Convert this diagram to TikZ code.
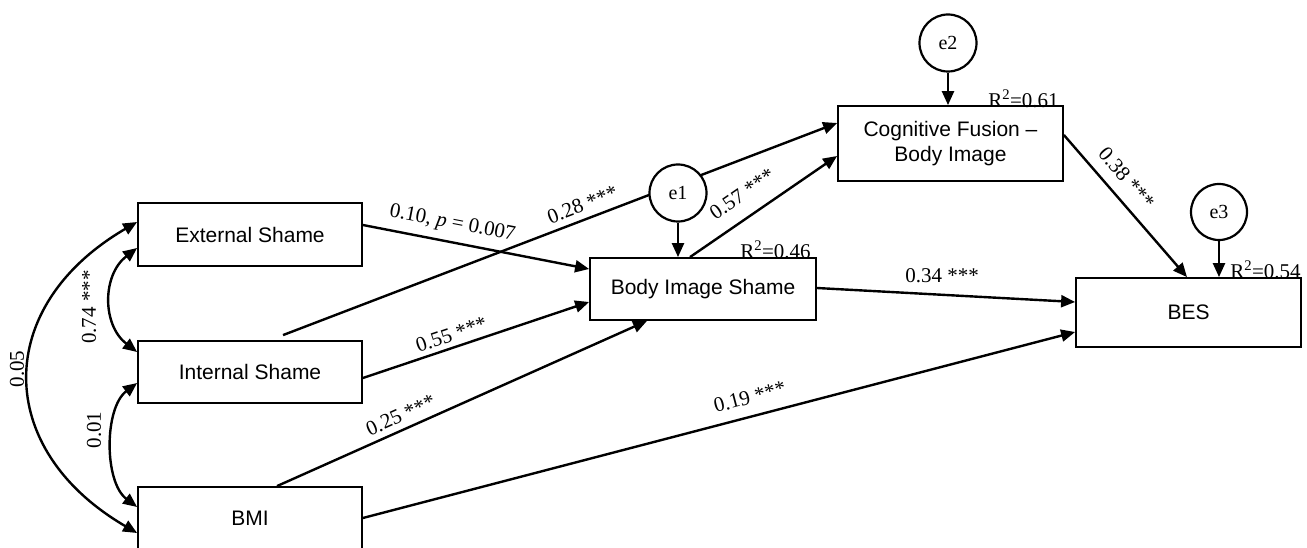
\documentclass[tikz,border=0pt]{standalone}
\usepackage{fontspec}
\setmainfont{Liberation Serif}
\newfontfamily\boxfont{Liberation Sans}
\usetikzlibrary{arrows.meta,calc}
\begin{document}
\begin{tikzpicture}[x=1pt,y=-1pt,
  box/.style={draw, line width=1.8pt, font=\boxfont\fontsize{21}{25}\selectfont, align=center, inner sep=0pt},
  err/.style={draw, circle, line width=2.2pt, fill=white, minimum size=57pt, inner sep=0pt, font=\fontsize{20}{24}\selectfont},
  arr/.style={line width=2.4pt, -{Triangle[length=14pt,width=12pt]}},
  cov/.style={line width=2.4pt, {Triangle[length=14pt,width=12pt]}-{Triangle[length=14pt,width=12pt]}},
  lbl/.style={font=\fontsize{21}{24}\selectfont, inner sep=0pt},
  rsq/.style={font=\fontsize{21}{24}\selectfont, inner sep=0pt, anchor=base east}
]
\useasboundingbox (0,0) rectangle (1307,548);
\clip (0,0) rectangle (1307,548);

% boxes
\node[box, minimum width=224pt, minimum height=63pt] (es) at (250,234.5) {External Shame};
\node[box, minimum width=224pt, minimum height=62pt] (is) at (250,372) {Internal Shame};
\node[box, minimum width=224pt, minimum height=62pt] (bmi) at (250,518) {BMI};
\node[box, minimum width=226pt, minimum height=62pt] (bis) at (703,289) {Body Image Shame};
\node[box, minimum width=225pt, minimum height=75pt] (cf) at (950.5,143.5) {Cognitive Fusion –\\Body Image};
\node[box, minimum width=225pt, minimum height=69pt] (bes) at (1188.5,312.5) {BES};

% covariances
\draw[cov] ([yshift=-13.5pt]es.west) .. controls (102,275) and (102,325) .. ([yshift=20pt]is.west);
\draw[cov] ([yshift=-11pt]is.west) .. controls (104,408) and (104,482) .. ([yshift=11pt]bmi.west);
\draw[cov] ([yshift=12.5pt]es.west) .. controls (-7,306) and (-7,449) .. ([yshift=-15pt]bmi.west);
\node[lbl, rotate=90] (c05) at (17,369) {0.05};
\node[lbl, rotate=90] (c74) at (89,307) {0.74 ***};
\node[lbl, rotate=90] (c01) at (94,430) {0.01};

% regressions
\draw[arr] ([yshift=9.5pt]es.east) -- node[lbl, sloped, pos=0.38, above=8pt] (l10) {0.10, \textit{p} = 0.007} ([yshift=20pt]bis.west);
\draw[arr] ([xshift=33pt,yshift=5pt]is.north) -- node[lbl, sloped, pos=0.55, above=6.5pt] (l28) {0.28 ***} ([yshift=20.5pt]cf.west);
\draw[arr] ([xshift=-13pt]bis.north) -- node[lbl, sloped, pos=0.44, above=14pt] (l57) {0.57 ***} ([yshift=-12.5pt]cf.west);
\draw[arr] ([yshift=-6pt]is.east) -- node[lbl, sloped, pos=0.41, above=5pt] (l55) {0.55 ***} ([yshift=-13pt]bis.west);
\draw[arr] ([xshift=27pt]bmi.north) -- node[lbl, sloped, pos=0.35, above=6pt] (l25) {0.25 ***} ([xshift=-56pt]bis.south);
\draw[arr] (bmi.east) -- node[lbl, sloped, pos=0.55, above=11pt] (l19) {0.19 ***} ([yshift=-19.5pt]bes.west);
\draw[arr] ([yshift=1pt]bis.east) -- node[lbl, pos=0.485, above=10.5pt] (l34) {0.34 ***} ([yshift=10.5pt]bes.west);
\draw[arr] ([yshift=8.5pt]cf.east) -- node[lbl, sloped, pos=0.39, above=11pt] (l38) {0.38 ***} ([xshift=-1.5pt]bes.north);

% error terms
\node[err] (e1) at (678,193) {e1};
\node[err] (e2) at (948,43) {e2};
\node[err, minimum size=56pt] (e3) at (1219,212) {e3};
\draw[arr] (e1.south) -- (e1.south |- bis.north);
\draw[arr] (e2.south) -- (e2.south |- cf.north);
\draw[arr] (e3.south) -- (e3.south |- bes.north);

% R squared
\node[rsq] (r46) at ([xshift=-6pt,yshift=-1pt]bis.north east) {R\textsuperscript{2}=0.46};
\node[rsq] (r61) at ([xshift=-5pt,yshift=-2pt]cf.north east) {R\textsuperscript{2}=0.61};
\node[rsq] (r54) at ([xshift=-1pt,yshift=-1pt]bes.north east) {R\textsuperscript{2}=0.54};
\end{tikzpicture}
\end{document}
